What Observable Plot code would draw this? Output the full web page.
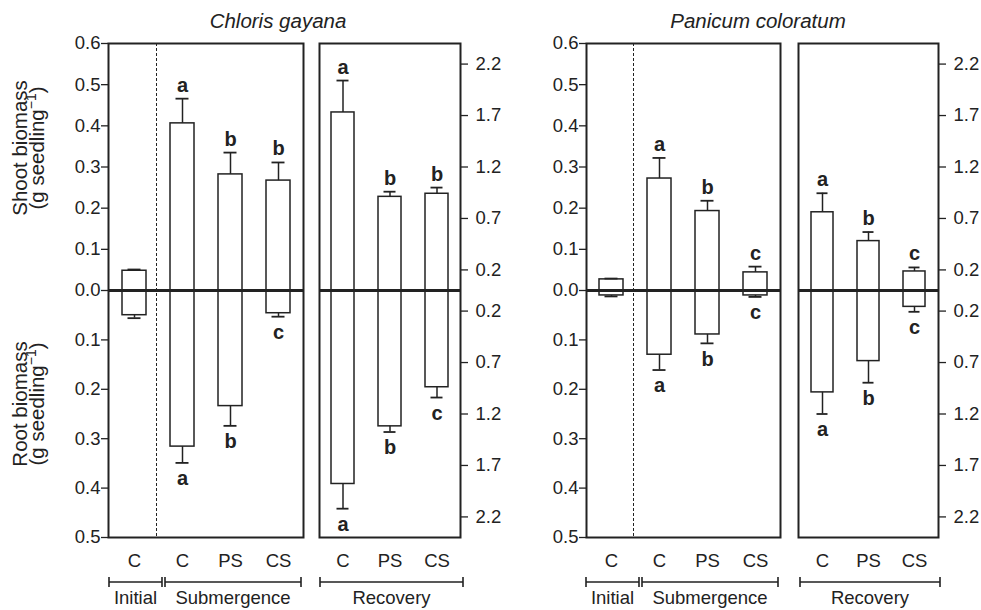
<!DOCTYPE html>
<html>
<head>
<meta charset="utf-8">
<script src="https://cdn.jsdelivr.net/npm/d3@7"></script>
<script src="https://cdn.jsdelivr.net/npm/@observablehq/plot@0.6"></script>
<style>
  body { margin: 0; background: #fff; }
  #fig { position: relative; width: 981px; height: 610px; overflow: hidden; }
  #fig > svg { position: absolute; top: 0; }
</style>
</head>
<body>
<div id="fig"></div>
<script>
// ---------- data ----------
const speciesNames = ["Chloris gayana", "Panicum coloratum"];
const subKeys = ["Initial C", "Sub C", "Sub PS", "Sub CS"];
const subLabels = ["C", "C", "PS", "CS"];
const recKeys = ["Rec C", "Rec PS", "Rec CS"];
const recLabels = ["C", "PS", "CS"];
const groupNames = ["Initial", "Submergence", "Recovery"];

// Chloris gayana – initial & submergence (left axis, g seedling-1)
const cgSubShoot    = [0.048, 0.406, 0.282, 0.267];
const cgSubShootErr = [0.051, 0.466, 0.335, 0.311];
const cgSubRoot     = [0.050, 0.316, 0.234, 0.046];
const cgSubRootErr  = [0.056, 0.349, 0.274, 0.053];
const cgSubShootLetters = ["", "a", "b", "b"];
const cgSubRootLetters  = ["", "a", "b", "c"];
// Chloris gayana – recovery (right axis)
const cgRecShoot    = [1.73, 0.91, 0.94];
const cgRecShootErr = [2.04, 0.96, 1.00];
const cgRecRoot     = [1.88, 1.32, 0.94];
const cgRecRootErr  = [2.12, 1.375, 1.04];
const cgRecShootLetters = ["a", "b", "b"];
const cgRecRootLetters  = ["a", "b", "c"];

// Panicum coloratum – initial & submergence
const pcSubShoot    = [0.027, 0.272, 0.193, 0.044];
const pcSubShootErr = [0.029, 0.322, 0.218, 0.058];
const pcSubRoot     = [0.010, 0.130, 0.089, 0.010];
const pcSubRootErr  = [0.012, 0.161, 0.107, 0.013];
const pcSubShootLetters = ["", "a", "b", "c"];
const pcSubRootLetters  = ["", "a", "b", "c"];
// Panicum coloratum – recovery
const pcRecShoot    = [0.76, 0.48, 0.185];
const pcRecShootErr = [0.945, 0.568, 0.224];
const pcRecRoot     = [0.99, 0.686, 0.159];
const pcRecRootErr  = [1.20, 0.896, 0.207];
const pcRecShootLetters = ["a", "b", "c"];
const pcRecRootLetters  = ["a", "b", "c"];

// axis extents and ticks
const leftShootMax = 0.6, leftRootMax = 0.5;     // left axis: shoot up to 0.6, root down to 0.5
const rightShootMax = 2.4, rightRootMax = 2.4;   // right axis (recovery)
const leftShootTicks  = [0.0, 0.1, 0.2, 0.3, 0.4, 0.5, 0.6];
const leftRootTicks   = [0.1, 0.2, 0.3, 0.4, 0.5];
const rightShootTicks = [0.2, 0.7, 1.2, 1.7, 2.2];
const rightRootTicks  = [0.2, 0.7, 1.2, 1.7, 2.2];

// ---------- helpers ----------
const ink = "#222";
const fontFamily = '"Liberation Sans", Arial, Helvetica, sans-serif';
const H = 610, MT = 43, MB = 73;

// shoot plotted upward, root downward, each half normalised to its own axis maximum
function makeRows(keys, shoot, shootErr, root, rootErr, shootLetters, rootLetters, sMax, rMax) {
  return keys.flatMap((key, i) => [
    {key, part: "shoot", v: shoot[i] / sMax, err: shootErr[i] / sMax, letter: shootLetters[i]},
    {key, part: "root", v: -root[i] / rMax, err: -rootErr[i] / rMax, letter: rootLetters[i]}
  ]);
}

function decorations(groups, dividerKey) {
  return (index, scales, values, dims) => {
    const x = scales.x, bw = x.bandwidth();
    const g = d3.create("svg:g");
    const bottom = dims.height - dims.marginBottom;
    if (dividerKey) {
      const xd = x(dividerKey) - 1.5;
      g.append("line").attr("x1", xd).attr("x2", xd)
        .attr("y1", dims.marginTop).attr("y2", bottom)
        .attr("stroke", ink).attr("stroke-width", 1).attr("stroke-dasharray", "3,2");
    }
    const yB = bottom + 45;
    for (const grp of groups) {
      const x0 = x(grp.first) + grp.padL;
      const x1 = x(grp.last) + bw + grp.padR;
      g.append("path")
        .attr("d", `M${x0},${yB - 5}V${yB + 5}M${x0},${yB}H${x1}M${x1},${yB - 5}V${yB + 5}`)
        .attr("fill", "none").attr("stroke", ink).attr("stroke-width", 1.6);
      g.append("text").attr("x", (x0 + x1) / 2).attr("y", yB + 22)
        .attr("text-anchor", "middle").attr("fill", ink)
        .attr("font-size", 18.5).attr("font-family", fontFamily)
        .text(grp.name);
    }
    return g.node();
  };
}

function box({rows, keys, labels, shootTicks, rootTicks, sMax, rMax, anchor, width, marginLeft, marginRight, groups, dividerKey}) {
  const shootRows = rows.filter(d => d.part === "shoot");
  const rootRows = rows.filter(d => d.part === "root");
  const tickPos = [], tickLab = new Map();
  for (const t of shootTicks) { const p = t / sMax; tickPos.push(p); tickLab.set(p, t.toFixed(1)); }
  for (const t of rootTicks) { const p = -t / rMax; tickPos.push(p); tickLab.set(p, t.toFixed(1)); }
  return Plot.plot({
    width, height: H, marginTop: MT, marginBottom: MB, marginLeft, marginRight,
    style: {fontFamily, fontSize: "18px", color: ink, background: "transparent", overflow: "visible"},
    x: {type: "band", domain: keys, padding: 0, axis: null},
    y: {domain: [-1, 1], axis: null},
    marks: [
      Plot.barY(rows, {x: "key", y1: 0, y2: "v", fill: "white", stroke: ink, strokeWidth: 1.5,
        insetLeft: 12, insetRight: 12}),
      Plot.ruleX(rows, {x: "key", y1: "v", y2: "err", stroke: ink, strokeWidth: 1.5}),
      Plot.tickY(rows, {x: "key", y: "err", insetLeft: 17.5, insetRight: 17.5, stroke: ink, strokeWidth: 1.8}),
      Plot.text(shootRows, {x: "key", y: "err", text: "letter", lineAnchor: "bottom", dy: -7,
        fontSize: 20, fontWeight: "bold", fill: ink}),
      Plot.text(rootRows, {x: "key", y: "err", text: "letter", lineAnchor: "top", dy: 8,
        fontSize: 20, fontWeight: "bold", fill: ink}),
      Plot.ruleY([0], {stroke: ink, strokeWidth: 3}),
      Plot.frame({stroke: ink, strokeWidth: 2}),
      Plot.axisY({anchor, ticks: tickPos, tickFormat: d => tickLab.get(d),
        tickSize: 7, tickPadding: anchor === "left" ? 1 : 8, fontSize: 18.5, label: null, stroke: ink, strokeWidth: 1.3}),
      Plot.axisX({tickSize: 0, tickPadding: 16, tickFormat: k => labels[keys.indexOf(k)],
        fontSize: 18.5, label: null}),
      decorations(groups, dividerKey)
    ]
  });
}

// ---------- build figure ----------
const fig = document.getElementById("fig");

const subGroups = [
  {name: groupNames[0], first: subKeys[0], last: subKeys[0], padL: -1, padR: 4},
  {name: groupNames[1], first: subKeys[1], last: subKeys[3], padL: 7, padR: -1}
];
const recGroups = [
  {name: groupNames[2], first: recKeys[0], last: recKeys[2], padL: 1, padR: 3}
];
const leftAxis = {shootTicks: leftShootTicks, rootTicks: leftRootTicks, sMax: leftShootMax, rMax: leftRootMax, anchor: "left"};
const rightAxis = {shootTicks: rightShootTicks, rootTicks: rightRootTicks, sMax: rightShootMax, rMax: rightRootMax, anchor: "right"};

const panels = [
  {left: 0, cfg: {...leftAxis,
    rows: makeRows(subKeys, cgSubShoot, cgSubShootErr, cgSubRoot, cgSubRootErr, cgSubShootLetters, cgSubRootLetters, leftShootMax, leftRootMax),
    keys: subKeys, labels: subLabels, width: 305, marginLeft: 108, marginRight: 2, groups: subGroups, dividerKey: subKeys[1]}},
  {left: 305, cfg: {...rightAxis,
    rows: makeRows(recKeys, cgRecShoot, cgRecShootErr, cgRecRoot, cgRecRootErr, cgRecShootLetters, cgRecRootLetters, rightShootMax, rightRootMax),
    keys: recKeys, labels: recLabels, width: 200, marginLeft: 14, marginRight: 45, groups: recGroups}},
  {left: 505, cfg: {...leftAxis,
    rows: makeRows(subKeys, pcSubShoot, pcSubShootErr, pcSubRoot, pcSubRootErr, pcSubShootLetters, pcSubRootLetters, leftShootMax, leftRootMax),
    keys: subKeys, labels: subLabels, width: 277, marginLeft: 81, marginRight: 2, groups: subGroups, dividerKey: subKeys[1]}},
  {left: 782, cfg: {...rightAxis,
    rows: makeRows(recKeys, pcRecShoot, pcRecShootErr, pcRecRoot, pcRecRootErr, pcRecShootLetters, pcRecRootLetters, rightShootMax, rightRootMax),
    keys: recKeys, labels: recLabels, width: 199, marginLeft: 16, marginRight: 43, groups: recGroups}}
];
for (const p of panels) {
  const svg = box(p.cfg);
  svg.style.left = p.left + "px";
  svg.style.position = "absolute";
  fig.appendChild(svg);
}

// titles and y-axis titles
const ov = d3.create("svg").attr("width", 981).attr("height", 610)
  .style("position", "absolute").style("left", "0px").style("top", "0px")
  .style("pointer-events", "none").style("overflow", "visible")
  .attr("font-family", fontFamily).attr("fill", ink);
ov.append("text").attr("x", 278).attr("y", 28).attr("text-anchor", "middle")
  .attr("font-size", 20.5).attr("font-style", "italic").text(speciesNames[0]);
ov.append("text").attr("x", 758).attr("y", 28).attr("text-anchor", "middle")
  .attr("font-size", 20.5).attr("font-style", "italic").text(speciesNames[1]);

function yTitle(cy, line1) {
  ov.append("text").attr("transform", `translate(27,${cy}) rotate(-90)`)
    .attr("text-anchor", "middle").attr("font-size", 20.5).text(line1);
  const t = ov.append("text").attr("transform", `translate(44,${cy}) rotate(-90)`)
    .attr("text-anchor", "middle").attr("font-size", 20.5);
  t.append("tspan").text("(g seedling");
  t.append("tspan").attr("dy", -8).attr("font-size", 14).text("\u22121");
  t.append("tspan").attr("dy", 8).text(")");
}
yTitle(148, "Shoot biomass");
yTitle(404, "Root biomass");
fig.appendChild(ov.node());
</script>
</body>
</html>
